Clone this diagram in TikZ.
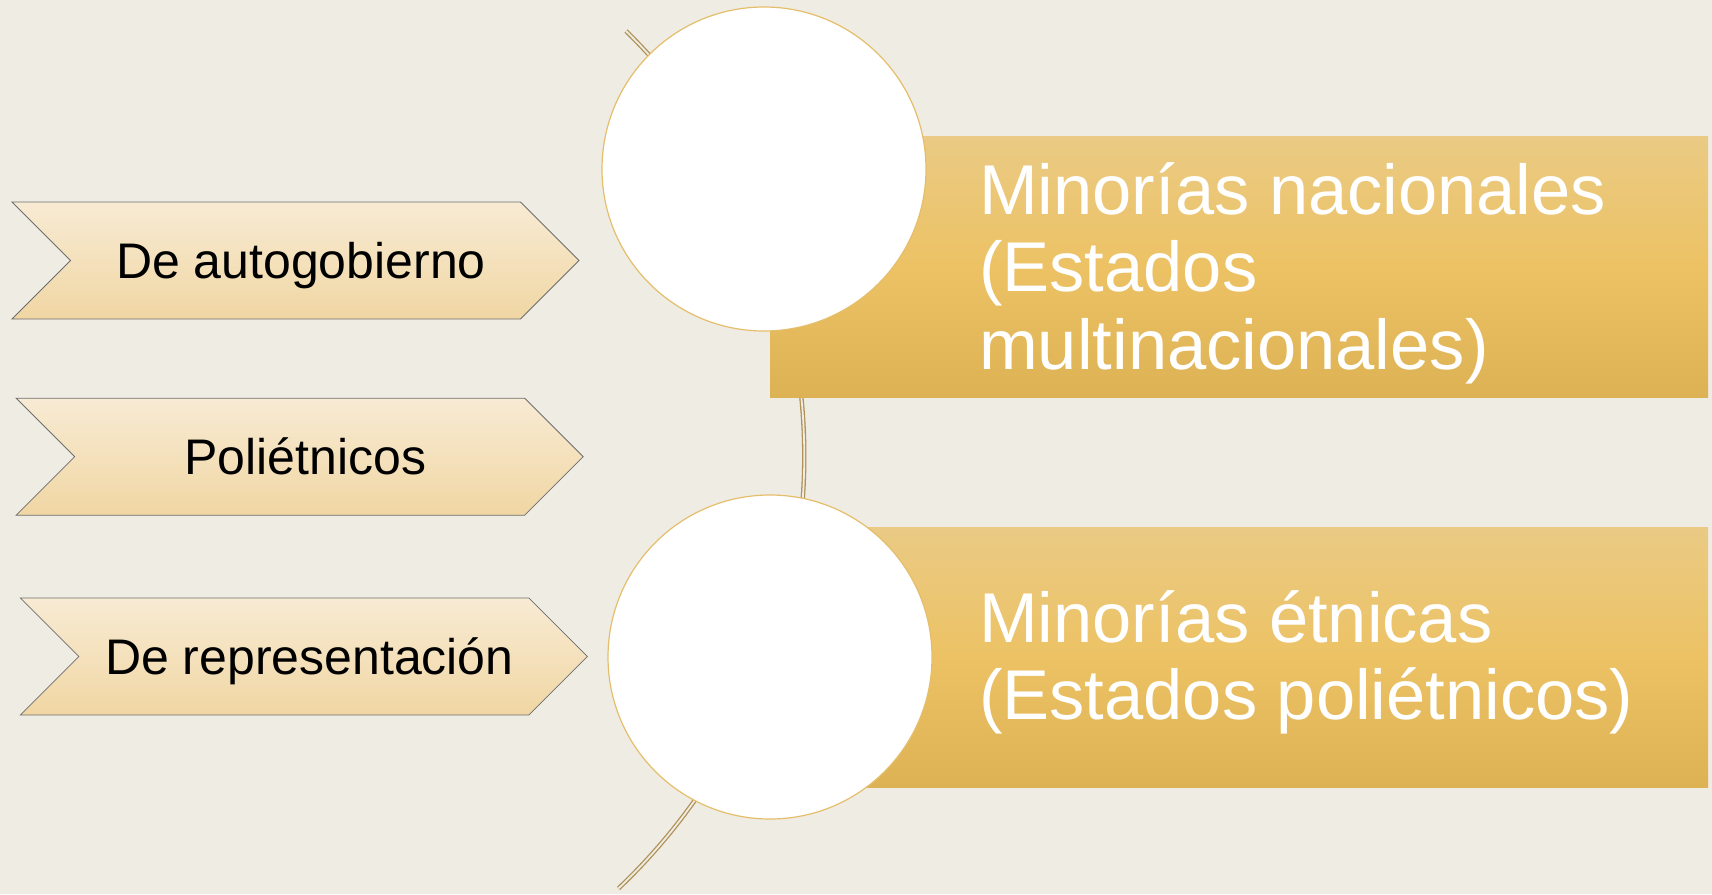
\documentclass[tikz,border=0pt]{standalone}
\usepackage{fontspec}
\setmainfont{Liberation Sans}
\usetikzlibrary{shapes.symbols,positioning}
\definecolor{paper}{RGB}{239,236,228}
\definecolor{goldline}{RGB}{229,190,108}
\definecolor{ribboncol}{RGB}{176,146,88}
\definecolor{bandtop}{RGB}{234,202,132}
\definecolor{bandmid}{RGB}{236,194,100}
\definecolor{bandbot}{RGB}{221,178,84}
\definecolor{tagtop}{RGB}{248,235,212}
\definecolor{tagbot}{RGB}{240,214,163}
\definecolor{tagedge}{RGB}{110,110,110}
\tikzset{
tag/.style = {signal, signal from=west, signal to=east, signal pointer angle=90, draw=tagedge, line width=0.8pt, top color=tagtop, bottom color=tagbot, minimum width=567pt, minimum height=117pt, inner sep=0pt, text height=36pt, text depth=0pt, font=\fontsize{50}{60}\selectfont, execute at begin node=\hspace*{11pt}},
band/.style = {rectangle, anchor=north west, inner sep=0pt, top color=bandtop, bottom color=bandbot, middle color=bandmid},
bubble/.style = {circle, draw=goldline, line width=1.2pt, fill=white, minimum size=324pt, inner sep=0pt},
bandtext/.style = {anchor=base west, align=left, text=white, inner sep=0pt, font=\fontsize{70.5}{77.5}\selectfont},
ribbon/.style = {draw=ribboncol, double=paper, line width=1.3pt, double distance=1.8pt}
}
\begin{document}
\begin{tikzpicture}[x=1pt,y=-1pt]
    \fill[paper] (0,0) rectangle (1712,894);
    \useasboundingbox (0,0) rectangle (1712,894);
    % arc behind the circles
    \coordinate (rtop) at (626,31);
    \draw[ribbon] (rtop) arc[start angle=45.5, end angle=-46.5, radius=596pt];
    % bands
    \node[band, minimum width=938pt, minimum height=260.5pt] (natband) at (770,136.5) {};
    \node[band, minimum width=933pt, minimum height=260pt] (ethband) at (775,527) {};
    \node[bubble] (natdot) at (764,169) {};
    \node[bubble] (ethdot) at (770,657) {};
    \node[bandtext] (natlbl) at (979,369) {Minorías nacionales\\(Estados\\multinacionales)};
    \node[bandtext] (ethlbl) at (979,719.5) {Minorías étnicas\\(Estados poliétnicos)};
    % chevrons
    \node[tag] (self) at (295.5,260.5) {De autogobierno};
    \node[tag] (poly) at (299.7,456.7) {Poliétnicos};
    \node[tag] (repr) at (303.9,656.5) {De representación};
\end{tikzpicture}
\end{document}
